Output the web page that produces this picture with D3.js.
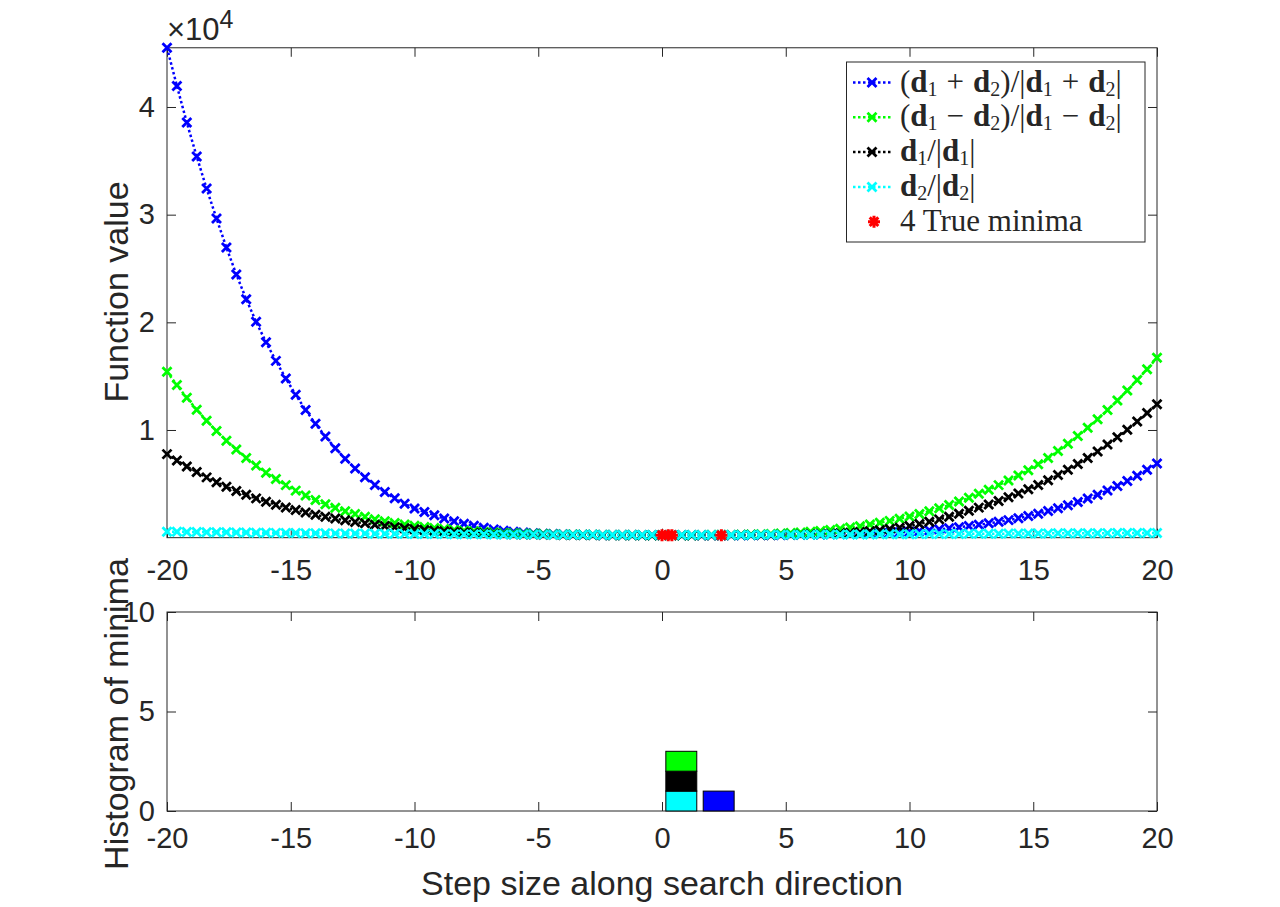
<!DOCTYPE html>
<html>
<head>
<meta charset="utf-8">
<script src="https://cdn.jsdelivr.net/npm/d3@7"></script>
<style>
	body { margin: 0; background: #fff; }
	svg { display: block; }
	text { fill: #262626; }
</style>
</head>
<body>
<div id="vizHolder"></div>
<script>
// step sizes along the search direction (x of every sample)
var stepSizes = [
	-20,-19.6,-19.2,-18.8,-18.4,-18,-17.6,-17.2,-16.8,-16.4,
	-16,-15.6,-15.2,-14.8,-14.4,-14,-13.6,-13.2,-12.8,-12.4,
	-12,-11.6,-11.2,-10.8,-10.4,-10,-9.6,-9.2,-8.8,-8.4,
	-8,-7.6,-7.2,-6.8,-6.4,-6,-5.6,-5.2,-4.8,-4.4,
	-4,-3.6,-3.2,-2.8,-2.4,-2,-1.6,-1.2,-0.8,-0.4,
	0,0.4,0.8,1.2,1.6,2,2.4,2.8,3.2,3.6,
	4,4.4,4.8,5.2,5.6,6,6.4,6.8,7.2,7.6,
	8,8.4,8.8,9.2,9.6,10,10.4,10.8,11.2,11.6,
	12,12.4,12.8,13.2,13.6,14,14.4,14.8,15.2,15.6,
	16,16.4,16.8,17.2,17.6,18,18.4,18.8,19.2,19.6,
	20];

// (d1+d2)/|d1+d2|
var sumValues = [
	45500,41960,38550,35400,32420,29640,26950,24450,22150,20050,
	18150,16420,14790,13270,11860,10570,9390,8310,7320,6430,
	5620,4890,4240,3660,3150,2700,2390,2080,1790,1530,
	1300,1100,920,770,640,540,470,415,372,338,
	311,291,275,263,254,247,242,238,236,234,
	233,232,231,231,230,230,230,231,233,236,
	240,245,252,260,270,282,296,312,330,350,
	372,397,425,458,496,540,610,690,780,870,
	970,1080,1200,1330,1470,1630,1810,2010,2230,2470,
	2730,3010,3310,3640,3990,4380,4800,5260,5760,6300,
	6880];

// (d1-d2)/|d1-d2|
var diffValues = [
	15410,14170,12990,11890,10860,9900,9010,8180,7410,6700,
	6040,5440,4880,4370,3910,3490,3110,2770,2460,2190,
	1940,1720,1530,1360,1220,1100,990,890,800,720,
	650,590,535,487,445,410,380,355,334,316,
	300,287,276,267,259,252,246,241,237,234,
	232,230,231,233,236,241,248,258,272,290,
	313,343,380,425,480,545,625,715,820,940,
	1070,1220,1380,1560,1760,1970,2200,2450,2730,3030,
	3350,3700,4070,4460,4880,5320,5780,6270,6810,7400,
	8040,8720,9440,10200,11000,11850,12740,13670,14640,15650,
	16700];

// d1/|d1|
var d1Values = [
	7760,7170,6610,6090,5600,5150,4730,4340,3980,3650,
	3340,3060,2800,2560,2340,2130,1940,1770,1610,1460,
	1330,1200,1090,980,880,790,720,650,590,535,
	487,445,408,376,348,324,304,287,273,262,
	253,246,241,237,234,232,231,230,230,230,
	230,230,230,230,231,232,234,236,239,244,
	250,258,268,281,297,317,343,375,415,465,
	525,600,690,800,930,1080,1270,1480,1700,1950,
	2220,2500,2790,3090,3410,3750,4110,4490,4900,5340,
	5810,6310,6840,7410,8010,8650,9320,10030,10780,11570,
	12400];

// d2/|d2|
var d2Values = [
	560,548,536,525,514,503,493,483,473,464,
	455,446,437,429,421,413,405,398,391,384,
	377,371,365,359,353,347,341,336,330,325,
	320,315,310,305,300,296,291,287,282,278,
	274,270,266,262,258,254,250,246,242,238,
	235,236,238,240,243,246,249,252,255,258,
	261,265,268,272,276,280,284,288,292,296,
	300,305,310,315,320,325,330,335,340,345,
	350,355,360,366,372,377,382,387,392,397,
	402,406,410,414,418,422,426,430,434,437,
	440];

// true minima
var minimaSteps = [0, 0.25, 0.4, 2.4];
var minimaValues = [235, 230, 230, 230];

// histogram of found minima (bin centres, counts per direction)
var histCenters = [0.78, 2.29];
var histD2 = [1, 0];
var histD1 = [1, 0];
var histDiff = [1, 0];
var histSum = [0, 1];

// ticks
var xTicks = [-20, -15, -10, -5, 0, 5, 10, 15, 20];
var yTopTicks = [10000, 20000, 30000, 40000];
var yBotTicks = [0, 5, 10];

// legend labels as [text, style] pieces: n normal, b bold, s subscript, o operator
var legendLabels = [
	[['(','n'],['d','b'],['1','s'],['+','o'],['d','b'],['2','s'],[')/|','n'],['d','b'],['1','s'],['+','o'],['d','b'],['2','s'],['|','n']],
	[['(','n'],['d','b'],['1','s'],['\u2212','o'],['d','b'],['2','s'],[')/|','n'],['d','b'],['1','s'],['\u2212','o'],['d','b'],['2','s'],['|','n']],
	[['d','b'],['1','s'],['/|','n'],['d','b'],['1','s'],['|','n']],
	[['d','b'],['2','s'],['/|','n'],['d','b'],['2','s'],['|','n']],
	[['4 True minima','n']]
];

var width = 1280,
	height = 907,
	sans = '"Liberation Sans", Arial, sans-serif',
	serif = '"Liberation Serif", "Times New Roman", serif',
	axisColor = '#262626',
	tickLen = 9,
	tickFont = 29,
	opGap = 9;

var series = [
	{ values: sumValues, color: '#0000ff' },
	{ values: diffValues, color: '#00ff00' },
	{ values: d1Values, color: '#000000' },
	{ values: d2Values, color: '#00ffff' }
];

var x = d3.scaleLinear().domain([-20, 20]).range([167, 1157]);
var yTop = d3.scaleLinear().domain([0, 45500]).range([537.67, 47.77]);
var yBot = d3.scaleLinear().domain([0, 10]).range([811, 612]);

var svg = d3.select('#vizHolder')
	.append('svg')
	.attr('width', width)
	.attr('height', height);

svg.append('rect').attr('width', width).attr('height', height).attr('fill', '#fff');

var xMark = 'M-4.5,-4.5L4.5,4.5M-4.5,4.5L4.5,-4.5';
var starMark = 'M-6,0L6,0M0,-6L0,6M-4.3,-4.3L4.3,4.3M-4.3,4.3L4.3,-4.3';
var plainNum = function(d) { return String(d); };

function drawAxes(y, yTicks, yFormat, xPad) {
	var top = y.range()[1], bottom = y.range()[0];
	var g = svg.append('g');

	g.append('g')
		.attr('transform', 'translate(0,' + bottom + ')')
		.call(d3.axisBottom(x).tickValues(xTicks).tickSizeInner(-tickLen).tickSizeOuter(0).tickPadding(xPad).tickFormat(plainNum));
	g.append('g')
		.attr('transform', 'translate(0,' + top + ')')
		.call(d3.axisTop(x).tickValues(xTicks).tickSizeInner(-tickLen).tickSizeOuter(0).tickFormat(''));
	g.append('g')
		.attr('transform', 'translate(' + x.range()[0] + ',0)')
		.call(d3.axisLeft(y).tickValues(yTicks).tickSizeInner(-tickLen).tickSizeOuter(0).tickPadding(12).tickFormat(yFormat));
	g.append('g')
		.attr('transform', 'translate(' + x.range()[1] + ',0)')
		.call(d3.axisRight(y).tickValues(yTicks).tickSizeInner(-tickLen).tickSizeOuter(0).tickFormat(''));

	g.selectAll('.domain').remove();
	g.selectAll('.tick line').attr('stroke', axisColor);
	g.selectAll('.tick text')
		.attr('font-family', sans)
		.attr('font-size', tickFont)
		.attr('fill', axisColor);

	g.append('rect')
		.attr('x', x.range()[0])
		.attr('y', top)
		.attr('width', x.range()[1] - x.range()[0])
		.attr('height', bottom - top)
		.attr('fill', 'none')
		.attr('stroke', axisColor)
		.attr('stroke-width', 1);
}

//Top panel: function values along the line
drawAxes(yTop, yTopTicks, function(d) { return String(d / 10000); }, 22);

var line = d3.line()
	.x(function(d, i) { return x(stepSizes[i]); })
	.y(function(d) { return yTop(d); });

series.forEach(function(s) {
	var g = svg.append('g');
	g.append('path')
		.attr('d', line(s.values))
		.attr('fill', 'none')
		.attr('stroke', s.color)
		.attr('stroke-width', 2.5)
		.attr('stroke-dasharray', '2.5,2.5');
	g.selectAll('path.mk')
		.data(s.values)
		.enter()
		.append('path')
		.attr('class', 'mk')
		.attr('d', xMark)
		.attr('transform', function(d, i) { return 'translate(' + x(stepSizes[i]) + ',' + yTop(d) + ')'; })
		.attr('fill', 'none')
		.attr('stroke', s.color)
		.attr('stroke-width', 2.8);
});

svg.append('g').selectAll('path')
	.data(minimaValues)
	.enter()
	.append('path')
	.attr('d', starMark)
	.attr('transform', function(d, i) { return 'translate(' + x(minimaSteps[i]) + ',' + yTop(d) + ')'; })
	.attr('fill', 'none')
	.attr('stroke', '#ff0000')
	.attr('stroke-width', 3);

// x10^4 exponent
var expo = svg.append('text')
	.attr('x', 167)
	.attr('y', 40)
	.attr('font-family', sans)
	.attr('font-size', 31)
	.attr('fill', axisColor);
expo.append('tspan').text('\u00d710');
expo.append('tspan').attr('font-size', 25).attr('dy', -12).text('4');

svg.append('text')
	.attr('transform', 'translate(128,292) rotate(-90)')
	.attr('text-anchor', 'middle')
	.attr('font-family', sans)
	.attr('font-size', 34)
	.text('Function value');

// legend
var legend = svg.append('g');
legend.append('rect')
	.attr('x', 846.5).attr('y', 62)
	.attr('width', 298.5).attr('height', 180)
	.attr('fill', '#fff')
	.attr('stroke', axisColor)
	.attr('stroke-width', 1);

legendLabels.forEach(function(pieces, i) {
	var rowY = 82.5 + i * 34.8;
	if (i < series.length) {
		legend.append('line')
			.attr('x1', 853).attr('x2', 891)
			.attr('y1', rowY).attr('y2', rowY)
			.attr('stroke', series[i].color)
			.attr('stroke-width', 2.5)
			.attr('stroke-dasharray', '2.5,2.5');
		legend.append('path')
			.attr('d', xMark)
			.attr('transform', 'translate(872,' + rowY + ')')
			.attr('fill', 'none')
			.attr('stroke', series[i].color)
			.attr('stroke-width', 2.8);
	} else {
		legend.append('path')
			.attr('d', starMark)
			.attr('transform', 'translate(874,' + rowY + ')')
			.attr('fill', 'none')
			.attr('stroke', '#ff0000')
			.attr('stroke-width', 3);
	}
	var t = legend.append('text')
		.attr('x', 900)
		.attr('y', rowY + 9)
		.attr('font-family', serif)
		.attr('font-size', 31)
		.style('white-space', 'pre')
		.attr('fill', '#000');
	var low = false, pad = 0;
	pieces.forEach(function(p) {
		var ts = t.append('tspan').text(p[0]);
		var dx = pad;
		pad = 0;
		if (p[1] === 's') {
			ts.attr('font-size', 20);
			if (!low) { ts.attr('dy', 4); low = true; }
		} else {
			if (low) { ts.attr('dy', -4); low = false; }
			if (p[1] === 'b') ts.attr('font-weight', 'bold');
			if (p[1] === 'o') { dx += opGap; pad = opGap; }
		}
		if (dx) ts.attr('dx', dx);
	});
});

//Bottom panel: histogram of minima
drawAxes(yBot, yBotTicks, d3.format('d'), 16);

var histRows = histCenters.map(function(c, i) {
	return { center: c, d2: histD2[i], d1: histD1[i], diff: histDiff[i], sum: histSum[i] };
});
var histKeys = ['d2', 'd1', 'diff', 'sum'];
var histColors = { d2: '#00ffff', d1: '#000000', diff: '#00ff00', sum: '#0000ff' };
var stacked = d3.stack().keys(histKeys)(histRows);
var barW = 1.25;

svg.append('g').selectAll('g')
	.data(stacked)
	.enter()
	.append('g')
	.attr('fill', function(d) { return histColors[d.key]; })
	.selectAll('rect')
	.data(function(d) { return d.filter(function(v) { return v[1] > v[0]; }); })
	.enter()
	.append('rect')
	.attr('x', function(d) { return x(d.data.center - barW / 2); })
	.attr('width', function(d) { return x(barW) - x(0); })
	.attr('y', function(d) { return yBot(d[1]); })
	.attr('height', function(d) { return yBot(d[0]) - yBot(d[1]); })
	.attr('stroke', '#000')
	.attr('stroke-width', 1);

svg.append('text')
	.attr('transform', 'translate(128,714) rotate(-90)')
	.attr('text-anchor', 'middle')
	.attr('font-family', sans)
	.attr('font-size', 34)
	.text('Histogram of minima');

svg.append('text')
	.attr('x', 662)
	.attr('y', 895)
	.attr('text-anchor', 'middle')
	.attr('font-family', sans)
	.attr('font-size', 34)
	.text('Step size along search direction');
</script>
</body>
</html>
